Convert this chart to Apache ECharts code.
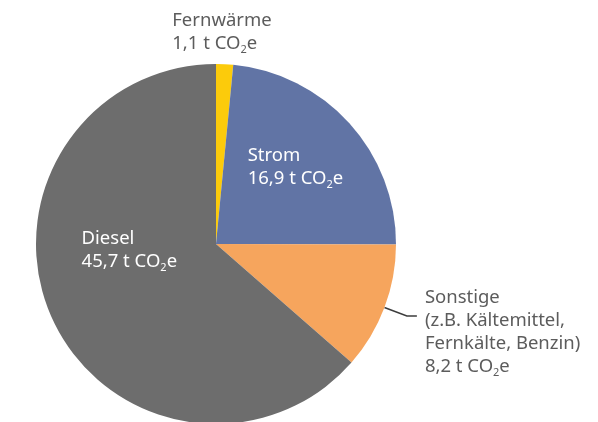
<!DOCTYPE html>
<html>
<head>
<meta charset="utf-8">
<script src="https://cdn.jsdelivr.net/npm/echarts@6/dist/echarts.min.js"></script>
<style>
  html, body { margin: 0; padding: 0; background: #fff; }
  #chart { width: 598px; height: 422px; }
</style>
</head>
<body>
<div id="chart"></div>
<script>
const categories = ['Fernwärme', 'Strom', 'Sonstige\n(z.B. Kältemittel,\nFernkälte, Benzin)', 'Diesel'];
const values = [1.1, 16.9, 8.2, 45.7];
const valueTexts = ['1,1', '16,9', '8,2', '45,7'];
const colors = ['#fccb0b', '#6174a5', '#f6a55d', '#6d6d6d'];

const font = '"Noto Sans", sans-serif';

function richFor(color) {
  return {
    t: { color: color, fontSize: 18.5, fontFamily: font, lineHeight: 23, align: 'left' },
    s: { color: color, fontSize: 11, fontFamily: font, lineHeight: 23, align: 'left', verticalAlign: 'bottom', padding: [10, 0, 0, 0] },
    e: { fontSize: 4, lineHeight: 32, align: 'left' }
  };
}

function labelText(i) {
  const nameLines = categories[i].split('\n').map(l => '{t|' + l + '}');
  const head = i === 2 ? '{e| }\n' : '';
  return head + nameLines.join('\n') + '\n{t|' + valueTexts[i] + ' t CO}{s|2}{t|e}';
}

// padding nudges each label away from the anchor ECharts gives it
const labelPadding = [
  [0, 0, 237, 3],
  [0, 0, 28, 21],
  0,
  [0, 4, 64, 0]
];

const data = values.map((v, i) => {
  const outside = i === 2;
  return {
    name: categories[i],
    value: v,
    itemStyle: { color: colors[i] },
    label: {
      position: outside ? 'outside' : 'inside',
      rich: richFor(i === 0 || outside ? '#5c5c5c' : '#ffffff'),
      padding: labelPadding[i]
    },
    labelLine: outside ? {} : { show: false }
  };
});

const chart = echarts.init(document.getElementById('chart'));
chart.setOption({
  animation: false,
  series: [{
    type: 'pie',
    center: [216, 244],
    radius: 180,
    startAngle: 90,
    clockwise: true,
    bleedMargin: 2,
    label: {
      show: true,
      distanceToLabelLine: 8,
      formatter: p => labelText(p.dataIndex)
    },
    labelLine: {
      show: true,
      length: 24,
      length2: 10,
      lineStyle: { color: '#3c3c3c', width: 1.5 }
    },
    data: data
  }]
});
</script>
</body>
</html>
